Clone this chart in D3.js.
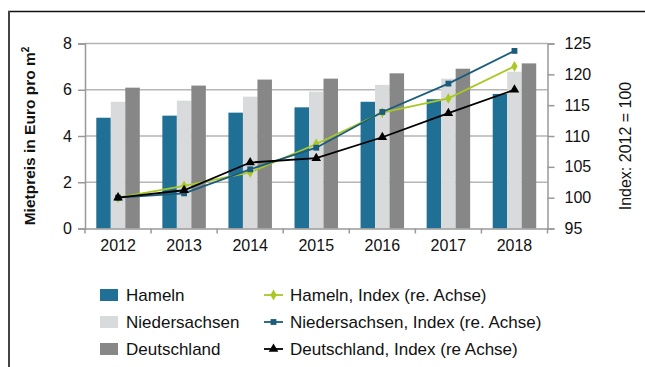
<!DOCTYPE html>
<html>
<head>
<meta charset="utf-8">
<script src="https://cdn.jsdelivr.net/npm/d3@7"></script>
<style>
  html, body { margin: 0; padding: 0; background: #fff; }
  svg { display: block; }
  text { font-family: "Liberation Sans Narrow", "Arial Narrow", "Liberation Sans", sans-serif; fill: #111; }
</style>
</head>
<body>
<svg id="chart" width="645" height="367"></svg>
<script>
// Rent levels (EUR per m²) and rent index (2012 = 100)
const years = ["2012", "2013", "2014", "2015", "2016", "2017", "2018"];
const barSeries = ["Hameln", "Niedersachsen", "Deutschland"];
const hamelnRent = [4.79, 4.88, 5.01, 5.24, 5.48, 5.59, 5.82];
const niedersachsenRent = [5.48, 5.53, 5.70, 5.92, 6.21, 6.48, 6.78];
const deutschlandRent = [6.09, 6.18, 6.44, 6.48, 6.71, 6.91, 7.14];
const hamelnIndex = [100, 101.9, 104.1, 108.7, 113.8, 116.1, 121.3];
const niedersachsenIndex = [100, 100.7, 104.6, 108.1, 113.9, 118.5, 123.8];
const deutschlandIndex = [100, 101.2, 105.7, 106.4, 109.8, 113.7, 117.5];
const leftTicks = [0, 2, 4, 6, 8];
const rightTicks = [95, 100, 105, 110, 115, 120, 125];
const lineLabels = ["Hameln, Index (re. Achse)", "Niedersachsen, Index (re. Achse)", "Deutschland, Index (re Achse)"];

const barColors = ["#1f7094", "#d9dadb", "#878787"];
const lineColors = ["#a9c823", "#1b5c7d", "#000000"];
const markerTypes = [d3.symbolDiamond, d3.symbolSquare, d3.symbolTriangle];

const svg = d3.select("#chart");

// Frame
svg.append("line").attr("x1", 8).attr("x2", 645).attr("y1", 11.5).attr("y2", 11.5)
  .attr("stroke", "#111").attr("stroke-width", 1.5);
svg.append("line").attr("x1", 9).attr("x2", 9).attr("y1", 11).attr("y2", 367)
  .attr("stroke", "#444").attr("stroke-width", 2);

const plot = { left: 85, right: 547.5, top: 43.5, bottom: 228.5 };

const x = d3.scaleBand().domain(years).range([plot.left, plot.right]).paddingInner(0).paddingOuter(0);
const yL = d3.scaleLinear().domain([0, 8]).range([plot.bottom, plot.top]);
const yR = d3.scaleLinear().domain([95, 125]).range([plot.bottom, plot.top]);
const groupW = 43.5;
const xs = d3.scaleBand().domain(barSeries).range([0, groupW]);

// Grid lines
svg.append("g").selectAll("line").data(leftTicks.filter(d => d > 0)).join("line")
  .attr("x1", plot.left).attr("x2", plot.right)
  .attr("y1", d => yL(d)).attr("y2", d => yL(d))
  .attr("stroke", "#b5b5b5").attr("stroke-width", 1.5);

// Bars
const rents = [hamelnRent, niedersachsenRent, deutschlandRent];
rents.forEach((vals, si) => {
  svg.append("g").selectAll("rect").data(years).join("rect")
    .attr("x", d => x(d) + x.bandwidth() / 2 - groupW / 2 + xs(barSeries[si]))
    .attr("width", xs.bandwidth())
    .attr("y", (d, i) => yL(vals[i]))
    .attr("height", (d, i) => plot.bottom - yL(vals[i]))
    .attr("fill", barColors[si]);
});

// Axes
const axisColor = "#999";
const gx = svg.append("g").attr("transform", `translate(0,${plot.bottom})`)
  .call(d3.axisBottom(x).tickSize(0).tickPadding(11));
gx.select(".domain").attr("stroke", axisColor).attr("stroke-width", 1.5);
gx.selectAll("text").attr("font-size", 16).attr("fill", "#111");
svg.append("g").selectAll("line").data(d3.range(years.length + 1)).join("line")
  .attr("x1", i => plot.left + i * x.step()).attr("x2", i => plot.left + i * x.step())
  .attr("y1", plot.bottom).attr("y2", plot.bottom + 5)
  .attr("stroke", axisColor).attr("stroke-width", 1.5);

const gl = svg.append("g").attr("transform", `translate(${plot.left},0)`)
  .call(d3.axisLeft(yL).tickValues(leftTicks).tickSize(7).tickPadding(6));
gl.selectAll("line, .domain").attr("stroke", axisColor).attr("stroke-width", 1.5);
gl.selectAll("text").attr("font-size", 16).attr("fill", "#111");

const gr = svg.append("g").attr("transform", `translate(${plot.right},0)`)
  .call(d3.axisRight(yR).tickValues(rightTicks).tickSize(7).tickPadding(10));
gr.selectAll("line, .domain").attr("stroke", axisColor).attr("stroke-width", 1.5);
gr.selectAll("text").attr("font-size", 16).attr("fill", "#111");

// Axis titles
const lt = svg.append("text").attr("transform", "translate(35,136) rotate(-90)")
  .attr("text-anchor", "middle").attr("font-size", 15.5).attr("font-weight", "bold");
lt.append("tspan").text("Mietpreis in Euro pro m");
lt.append("tspan").attr("font-size", 10).attr("dy", -6).text("2");

svg.append("text").attr("transform", "translate(631,146) rotate(-90)")
  .attr("text-anchor", "middle").attr("font-size", 16).text("Index: 2012 = 100");

// Index lines
const indices = [hamelnIndex, niedersachsenIndex, deutschlandIndex];
const cx = d => x(d) + x.bandwidth() / 2;
indices.forEach((vals, si) => {
  const line = d3.line().x((d, i) => cx(years[i])).y(d => yR(d));
  svg.append("path").datum(vals).attr("d", line)
    .attr("fill", "none").attr("stroke", lineColors[si]).attr("stroke-width", 1.8);
  svg.append("g").selectAll("path").data(vals).join("path")
    .attr("transform", (d, i) => `translate(${cx(years[i])},${yR(d)})`)
    .attr("d", d3.symbol().type(markerTypes[si]).size(si === 2 ? 40 : 34))
    .attr("fill", lineColors[si]);
});

// Legend
const rowY = [295, 322, 349];
barSeries.forEach((name, i) => {
  svg.append("rect").attr("x", 100).attr("y", rowY[i] - 6).attr("width", 18).attr("height", 12)
    .attr("fill", barColors[i]);
  svg.append("text").attr("x", 126).attr("y", rowY[i] + 6).attr("font-size", 17).text(name);
});
lineLabels.forEach((name, i) => {
  svg.append("line").attr("x1", 264).attr("x2", 283).attr("y1", rowY[i]).attr("y2", rowY[i])
    .attr("stroke", lineColors[i]).attr("stroke-width", 1.8);
  svg.append("path").attr("transform", `translate(273.5,${rowY[i]})`)
    .attr("d", d3.symbol().type(markerTypes[i]).size(i === 2 ? 40 : 34))
    .attr("fill", lineColors[i]);
  svg.append("text").attr("x", 290).attr("y", rowY[i] + 6).attr("font-size", 17).text(name);
});
</script>
</body>
</html>
